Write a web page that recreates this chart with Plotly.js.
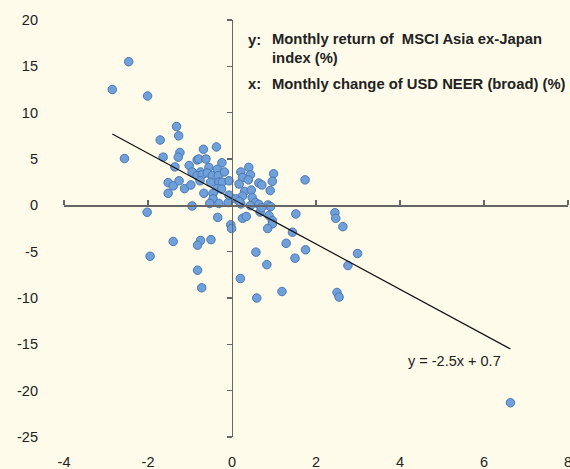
<!DOCTYPE html>
<html>
<head>
<meta charset="utf-8">
<script src="https://cdn.plot.ly/plotly-3.0.1.min.js"></script>
<style>html,body{margin:0;padding:0;background:#fefbea;}#chart{width:570px;height:469px;}</style>
</head>
<body>
<div id="chart"></div>
<script>
// USD NEER monthly change (%)
const usdChange = [
  -2.85, -2.46, -2.01, -2.56, -2.02, -1.95, 6.63,
  -1.32, -1.27, -1.71, -0.68, -0.37, -1.24, -1.28, -1.64, -1.02, -1.36, -0.83, -0.79, -0.62,
  -0.24, -0.95, -0.75, -0.55, -0.83, -0.71, -0.59, -0.35, -0.47, -0.33, -0.18, -0.76, -0.51,
  -1.52, -1.40, -1.26, -1.13, -0.98, -0.31, -0.23, -0.07, -0.36, -1.52, -0.67, -0.45, -0.25,
  -0.45, -0.53, -0.31, -0.09, -0.07, -0.95, -0.34, -0.03, -0.01, -1.40, -0.75, -0.82, -0.50,
  -0.82, -0.72,
  0.40, 0.21, 0.44, 0.25, 0.39, 0.17, 0.99, 0.96, 0.64, 0.71, 0.91, 1.74, 0.30, 0.46, 0.25,
  0.48, 0.56, 0.64, 0.44, 0.21, 0.09, 0.86, 0.92, 1.52, 0.67, 0.71, 0.88, 0.96, 0.96, 0.85,
  0.25, 0.34, 2.45, 2.47, 2.64, 1.44, 1.29, 1.75, 1.50, 0.57, 2.99, 2.76, 0.83, 0.20, 1.19,
  0.59, 2.50, 2.55, 0.17
];
// MSCI Asia ex-Japan monthly return (%)
const msciReturn = [
  12.5, 15.5, 11.8, 5.05, -0.75, -5.5, -21.3,
  8.5, 7.5, 7.05, 6.05, 6.3, 5.7, 5.2, 5.2, 4.3, 4.15, 4.9, 5.0, 5.0,
  4.6, 3.6, 3.6, 4.1, 3.2, 3.3, 3.5, 3.9, 3.2, 3.2, 3.6, 2.65, 2.5,
  2.45, 2.1, 2.65, 1.8, 2.2, 2.5, 2.5, 2.65, 1.8, 1.3, 1.3, 1.3, 1.75,
  0.7, 0.2, 0.2, 0.3, 1.1, -0.07, -1.3, -2.1, -2.5, -3.9, -3.8, -4.3, -3.7,
  -7.0, -8.9,
  4.1, 3.6, 3.3, 3.0, 2.75, 2.3, 3.4, 2.6, 2.4, 2.2, 1.6, 2.75, 1.5, 1.65, 1.0,
  0.85, 0.3, 0.1, -0.04, 0.15, 0.7, 0.04, -0.14, -0.93, -0.72, -0.25, -1.1, -1.65, -2.0, -2.5,
  -1.4, -1.2, -0.8, -1.4, -2.3, -2.9, -4.1, -4.8, -5.7, -5.05, -5.2, -6.5, -6.4, -7.9, -9.3,
  -10.0, -9.4, -9.9, 0.43
];
// Fitted regression line end points
const fitX = [-2.85, 6.63];
const fitY = [7.7, -15.5];
const fitLabel = 'y = -2.5x + 0.7';
const xTicks = [-4, -2, 0, 2, 4, 6, 8];
const yTicks = [20, 15, 10, 5, 0, -5, -10, -15, -20, -25];
const xRange = [-4, 8.0005];
const yRange = [-25, 20];

const ink = '#222222';
const axisGrey = '#666666';
const fontFam = '"Liberation Sans", Arial, Helvetica, sans-serif';
const fs = 14.5;
const legendFs = 14.8;

const traces = [
  {
    x: usdChange, y: msciReturn, type: 'scatter', mode: 'markers',
    xaxis: 'x', yaxis: 'y',
    marker: {size: 8.5, color: '#6fa0da', line: {color: '#4a78b5', width: 1}},
    hoverinfo: 'skip'
  },
  {
    x: fitX, y: fitY, type: 'scatter', mode: 'lines',
    xaxis: 'x2', yaxis: 'y2',
    line: {color: '#111111', width: 1.2},
    hoverinfo: 'skip'
  }
];

const zeroYFrac = (0 - yRange[0]) / (yRange[1] - yRange[0]);
const zeroXFrac = (0 - xRange[0]) / (xRange[1] - xRange[0]);

const T = 19.5, B = 31.5, L = 64, R = 2;
const plotH = 469 - T - B, plotW = 570 - L - R;
const py = (pix) => (469 - B - pix) / plotH;   // pixel row -> paper fraction
const px = (pix) => (pix - L) / plotW;         // pixel column -> paper fraction

const layout = {
  width: 570, height: 469,
  margin: {l: L, r: R, t: T, b: B},
  paper_bgcolor: '#fefbea', plot_bgcolor: '#fefbea',
  showlegend: false,
  font: {family: fontFam, size: fs, color: ink},
  xaxis: {
    range: xRange, tickmode: 'array', tickvals: xTicks, ticktext: xTicks.map(String),
    showgrid: false, zeroline: false, showline: false, ticks: '',
    ticklabelstandoff: 14, ticklabeloverflow: 'allow',
    tickfont: {size: fs, color: ink}, automargin: false
  },
  yaxis: {
    range: yRange, tickmode: 'array', tickvals: yTicks, ticktext: yTicks.map(String),
    showgrid: false, zeroline: false, showline: false, ticks: '',
    ticklabelstandoff: 25, ticklabeloverflow: 'allow',
    tickfont: {size: fs, color: ink}, automargin: false
  },
  xaxis2: {
    range: xRange, overlaying: 'x', anchor: 'free', position: zeroYFrac, side: 'top',
    tickmode: 'array', tickvals: xTicks, showticklabels: false,
    ticks: 'outside', ticklen: 5, tickwidth: 1.3, tickcolor: axisGrey,
    showline: true, linecolor: axisGrey, linewidth: 1.5,
    showgrid: false, zeroline: false
  },
  yaxis2: {
    range: yRange, overlaying: 'y', anchor: 'free', position: zeroXFrac, side: 'left',
    tickmode: 'array', tickvals: yTicks, showticklabels: false,
    ticks: 'outside', ticklen: 5, tickwidth: 1.3, tickcolor: axisGrey,
    showline: true, linecolor: axisGrey, linewidth: 1.5,
    showgrid: false, zeroline: false
  },
  annotations: [
    {xref: 'paper', yref: 'paper', x: px(246), y: py(40),
     xanchor: 'left', yanchor: 'middle', showarrow: false, text: '<b>y:</b>',
     font: {size: legendFs, color: ink}},
    {xref: 'paper', yref: 'paper', x: px(270), y: py(48.5),
     xanchor: 'left', yanchor: 'middle', align: 'left', showarrow: false,
     text: '<b>Monthly return of  MSCI Asia ex-Japan<br>index (%)</b>',
     font: {size: legendFs, color: ink}},
    {xref: 'paper', yref: 'paper', x: px(246), y: py(83.5),
     xanchor: 'left', yanchor: 'middle', showarrow: false, text: '<b>x:</b>',
     font: {size: legendFs, color: ink}},
    {xref: 'paper', yref: 'paper', x: px(270), y: py(83.5),
     xanchor: 'left', yanchor: 'middle', showarrow: false,
     text: '<b>Monthly change of USD NEER (broad) (%)</b>',
     font: {size: legendFs, color: ink}},
    {xref: 'x', yref: 'y', x: 5.29, y: -16.8, xanchor: 'center', yanchor: 'middle',
     showarrow: false, text: fitLabel, font: {size: fs, color: ink}}
  ]
};

Plotly.newPlot('chart', traces, layout, {staticPlot: true, displayModeBar: false});
</script>
</body>
</html>
